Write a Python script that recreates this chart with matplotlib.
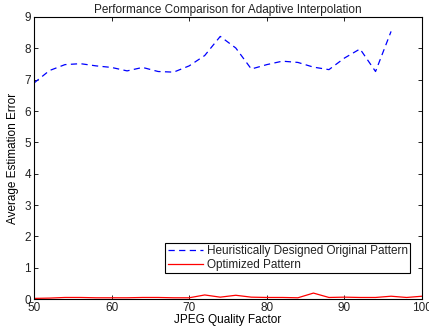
import numpy as np
import matplotlib
matplotlib.use('Agg')
import matplotlib.pyplot as plt

plt.rcParams['font.family'] = ['Liberation Sans', 'DejaVu Sans']
plt.rcParams['text.color'] = '#222222'
plt.rcParams['xtick.labelcolor'] = '#222222'
plt.rcParams['ytick.labelcolor'] = '#222222'

quality_blue = np.arange(50, 97, 2)
err_heuristic = [6.89, 7.29, 7.48, 7.51, 7.44, 7.39, 7.28, 7.39, 7.26, 7.24,
                 7.44, 7.77, 8.38, 8.01, 7.34, 7.48, 7.59, 7.55, 7.40, 7.32,
                 7.69, 7.98, 7.26, 8.54]

quality_red = np.arange(50, 101, 2)
err_optimized = [0.02, 0.03, 0.05, 0.05, 0.04, 0.04, 0.04, 0.05, 0.05, 0.04,
                 0.04, 0.13, 0.06, 0.12, 0.06, 0.05, 0.05, 0.04, 0.19, 0.05,
                 0.06, 0.05, 0.05, 0.09, 0.05, 0.09]

fs = 8.5

fig = plt.figure(figsize=(4.29, 3.33), dpi=100)
ax = fig.add_axes([0.079, 0.102, 0.905, 0.847])
ax.plot(quality_blue, err_heuristic, '--', color='blue', lw=0.9,
        dashes=(5, 3.5), label='Heuristically Designed Original Pattern')
ax.plot(quality_red, err_optimized, '-', color='red', lw=0.9,
        label='Optimized Pattern')

ax.set_xlim(50, 100)
ax.set_ylim(0, 9)
ax.set_xticks(np.arange(50, 101, 10))
ax.set_yticks(np.arange(0, 10, 1))
ax.tick_params(direction='in', top=True, right=True, labelsize=fs,
               length=3, width=0.6, pad=2)
for s in ax.spines.values():
    s.set_linewidth(0.8)

ax.set_xlabel('JPEG Quality Factor', fontsize=fs, labelpad=0)
ax.set_ylabel('Average Estimation Error', fontsize=fs, labelpad=4)
ax.set_title('Performance Comparison for Adaptive Interpolation',
             fontsize=fs, pad=3)

leg = ax.legend(loc='lower right', bbox_to_anchor=(0.969, 0.092),
                fontsize=fs, fancybox=False, edgecolor='black',
                framealpha=1, borderpad=0.2, labelspacing=0.15,
                handlelength=3.0, handletextpad=0.3, borderaxespad=0)
leg.get_frame().set_linewidth(0.8)

fig.savefig('out.png', dpi=100)
